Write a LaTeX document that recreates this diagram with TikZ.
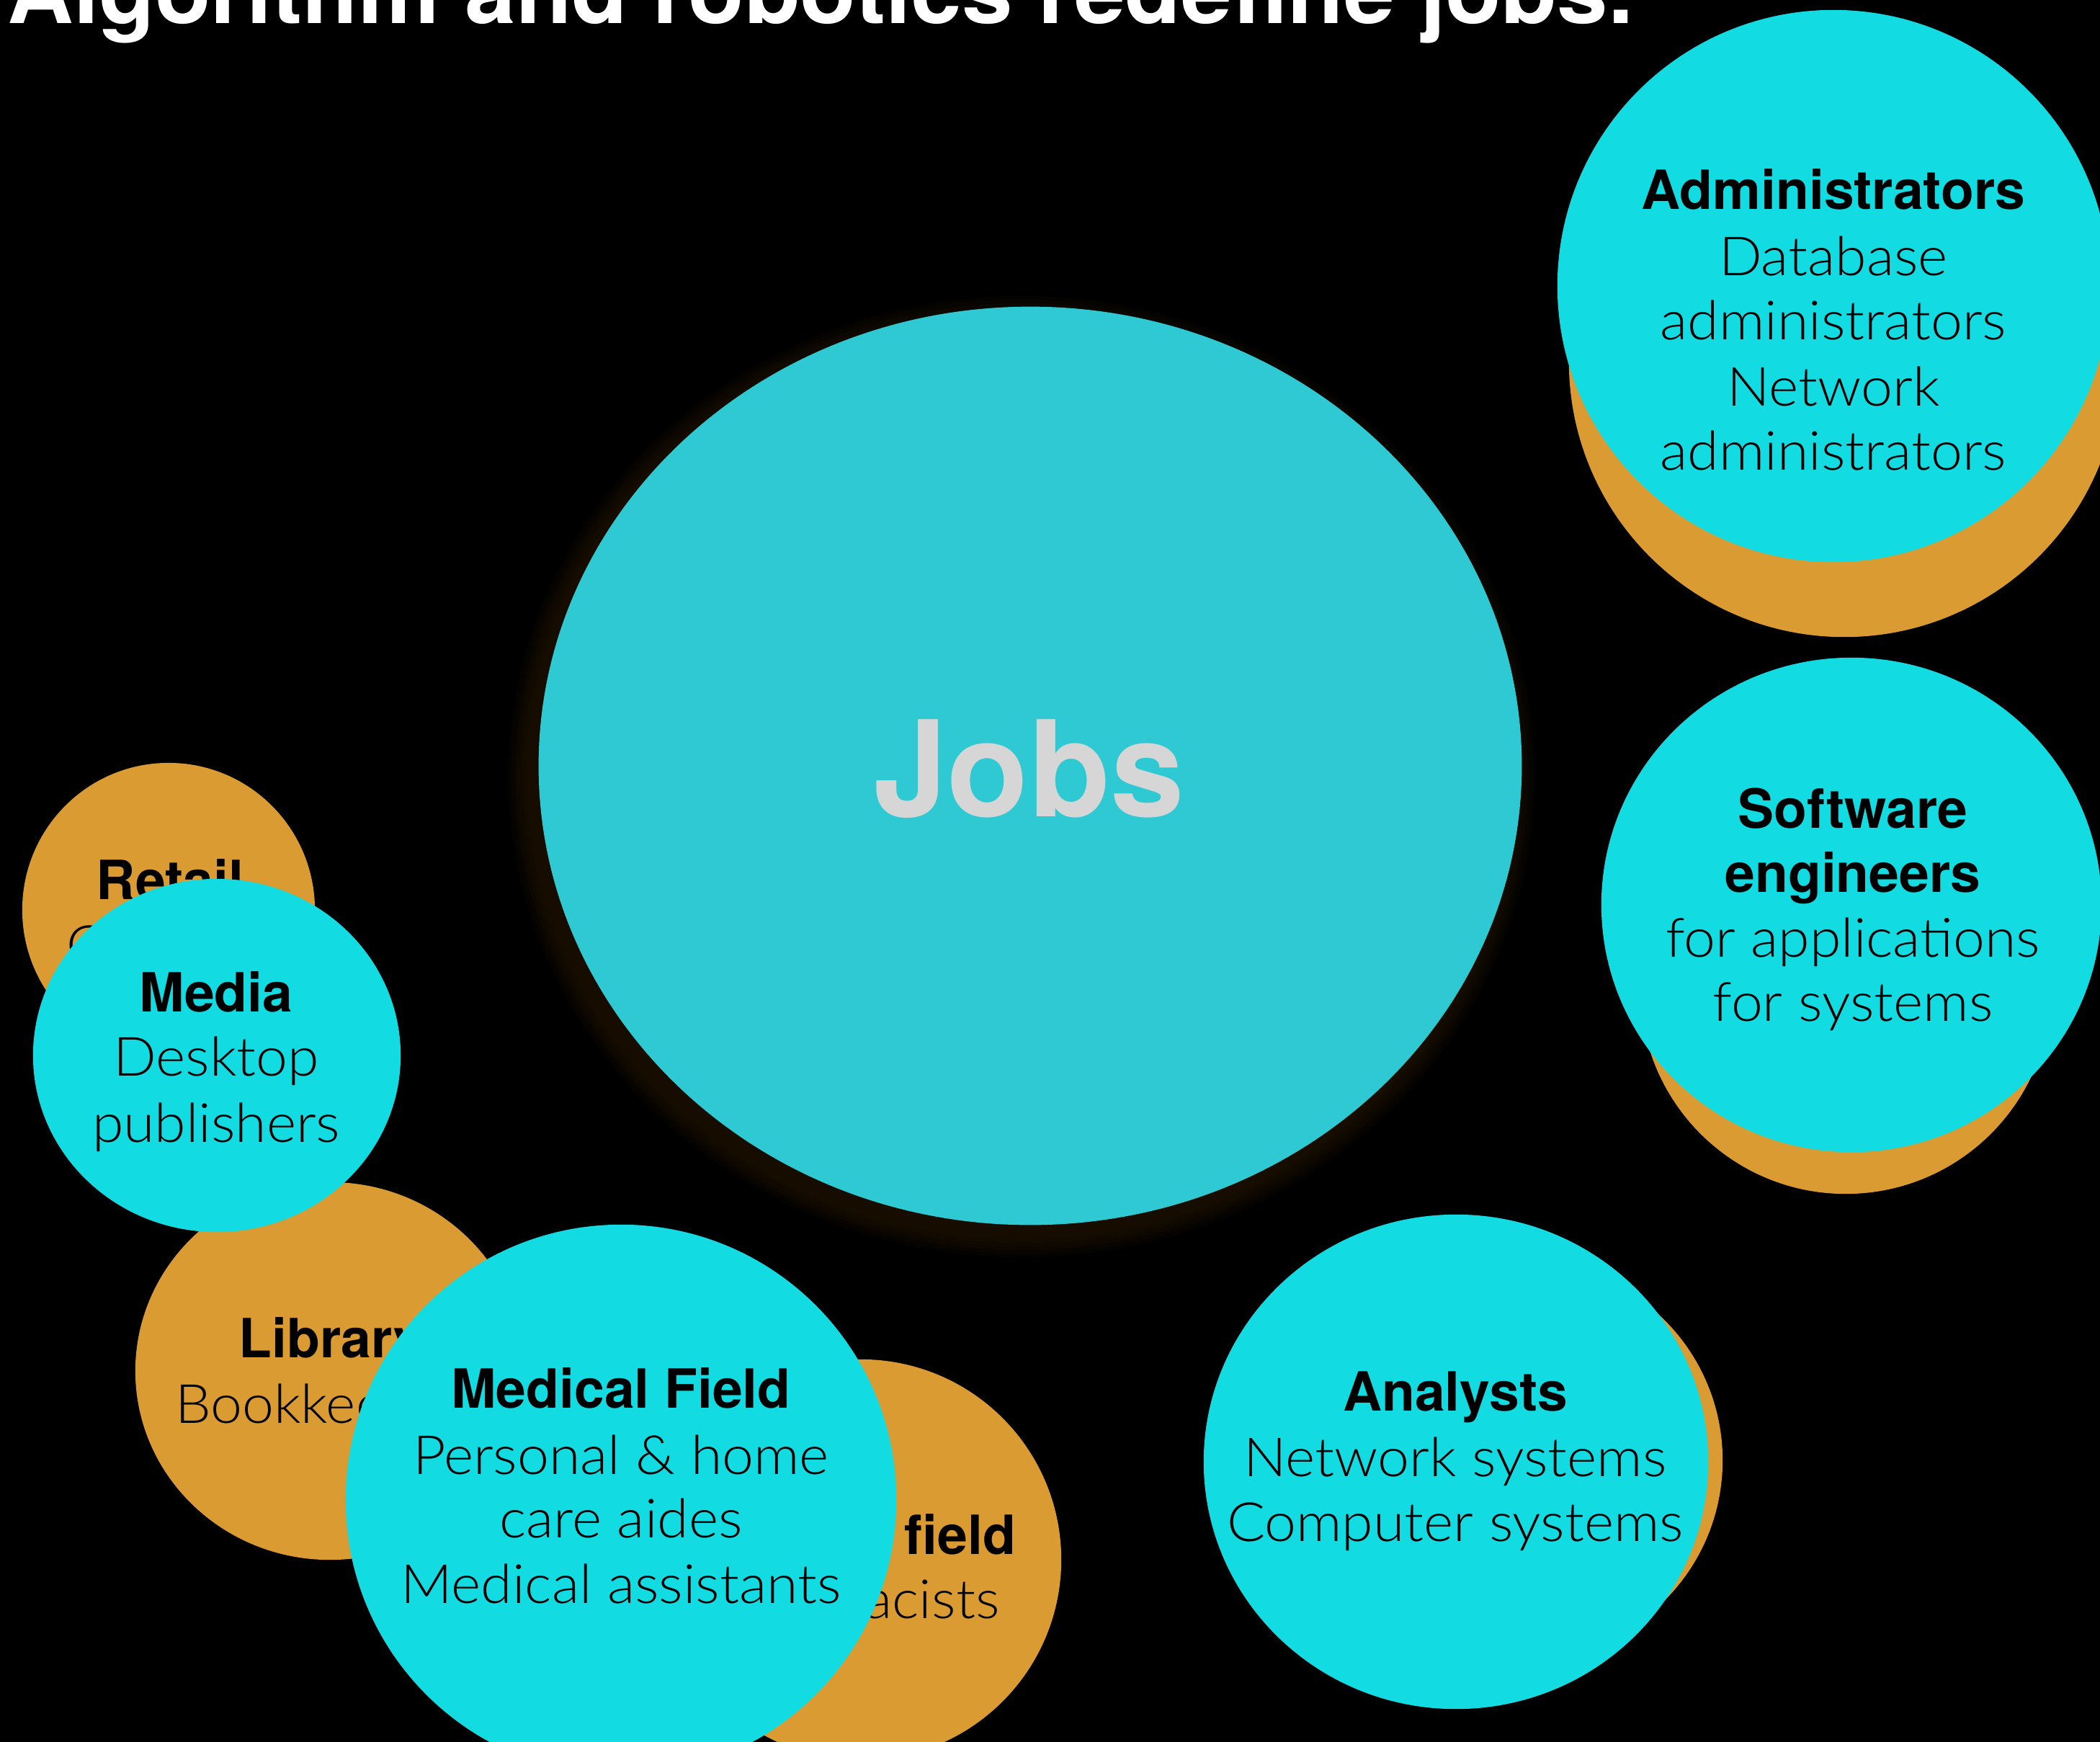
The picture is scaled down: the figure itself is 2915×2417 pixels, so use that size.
\documentclass[tikz,border=0pt]{standalone}
\usepackage{fontspec}
\setmainfont{TeX Gyre Heros}
\newfontfamily\lightf{Lato}[UprightFont={* Light}, FakeStretch=1.05]
\usetikzlibrary{shapes.geometric}
\definecolor{cyanc}{HTML}{12DCE2}
\definecolor{jobc}{HTML}{2EC9D3}
\definecolor{orgc}{HTML}{DA9B32}
\definecolor{jobtxt}{HTML}{D6D6D6}
\begin{document}
\begin{tikzpicture}[x=0.01cm,y=-0.01cm,
  blob/.style={ellipse, inner sep=0pt, outer sep=0pt, draw=none},
  cy/.style={blob, fill=cyanc},
  og/.style={blob, fill=orgc},
  txt/.style={anchor=base, inner sep=0pt, text=black, font=\lightf\fontsize{21.34}{25.6}\selectfont},
  btxt/.style={anchor=base, inner sep=0pt, text=black, font=\fontsize{21.34}{25.6}\selectfont\bfseries}]
\useasboundingbox (0,0) rectangle (2915,2417);
\fill[black] (-20,-20) rectangle (2935,2437);

% title
\node[anchor=base west, inner sep=0pt, text=white, font=\fontsize{36.1}{40}\selectfont\bfseries] (title) at (10,32) {Algorithm and robotics redefine jobs.};

% central Jobs
\foreach \k in {1,...,6} {\fill[orgc, opacity=0.02] (1418,1078) ellipse [x radius={6.82cm+\k*0.05cm}, y radius={6.37cm+\k*0.05cm}];}
\node[blob, fill=jobc, minimum width=13.64cm, minimum height=12.74cm] (jobs) at (1430,1063) {};
\node[anchor=base, inner sep=0pt, text=jobtxt, font=\fontsize{52.6}{60}\selectfont\bfseries] (jobst) at (1428,1133) {Jobs};

% Retail (orange)
\node[og, minimum width=4.06cm, minimum height=4.08cm] (retail) at (234,1263) {};
\node[btxt] (retail1) at (236,1248) {Retail};
\node[txt] (retail2) at (236,1338) {Cashiers};

% Library (orange)
\node[og, minimum width=5.40cm, minimum height=5.24cm] (library) at (458,1903) {};
\node[btxt] (lib1) at (460,1884) {Library};
\node[txt] (lib2) at (462,1975) {Bookkeepers};

% Medical field (orange)
\node[og, minimum width=5.56cm, minimum height=5.56cm] (medo) at (1195,2165) {};
\node[btxt] (medo1) at (1185,2157) {Medical field};
\node[txt] (medo2) at (1185,2246) {Pharmacists};

% Media (cyan)
\node[cy, minimum width=5.10cm, minimum height=4.90cm] (media) at (301,1465) {};
\node[btxt] (media1) at (300,1404) {Media};
\node[txt] (media2) at (300,1493) {Desktop};
\node[txt] (media3) at (300,1585) {publishers};

% Medical Field (cyan)
\node[cy, minimum width=7.64cm, minimum height=7.64cm] (medc) at (862,2082) {};
\node[btxt] (medc1) at (862,1954) {Medical Field};
\node[txt] (medc2) at (862,2046) {Personal \& home};
\node[txt] (medc3) at (862,2134) {care aides};
\node[txt] (medc4) at (862,2225) {Medical assistants};

% Administrators
\node[og, minimum width=7.64cm, minimum height=7.64cm] (admo) at (2560,502) {};
\node[cy, minimum width=7.66cm, minimum height=7.66cm] (admc) at (2545,397) {};
\node[btxt] (adm1) at (2545,290) {Administrators};
\node[txt] (adm2) at (2545,382) {Database};
\node[txt] (adm3) at (2545,471) {administrators};
\node[txt] (adm4) at (2545,563) {Network};
\node[txt] (adm5) at (2545,652) {administrators};

% Software engineers
\node[og, minimum width=5.70cm, minimum height=5.70cm] (sweo) at (2562,1372) {};
\node[cy, minimum width=6.94cm, minimum height=6.86cm] (swec) at (2570,1256) {};
\node[btxt] (swe1) at (2572,1149) {Software};
\node[btxt] (swe2) at (2572,1238) {engineers};
\node[txt] (swe3) at (2572,1328) {for applications};
\node[txt] (swe4) at (2572,1417) {for systems};

% Analysts
\node[og, minimum width=5.50cm, minimum height=5.50cm] (anao) at (2116,2027) {};
\node[cy, minimum width=7.00cm, minimum height=6.86cm] (anac) at (2021,2029) {};
\node[btxt] (ana1) at (2020,1958) {Analysts};
\node[txt] (ana2) at (2020,2049) {Network systems};
\node[txt] (ana3) at (2020,2139) {Computer systems};
\end{tikzpicture}
\end{document}
